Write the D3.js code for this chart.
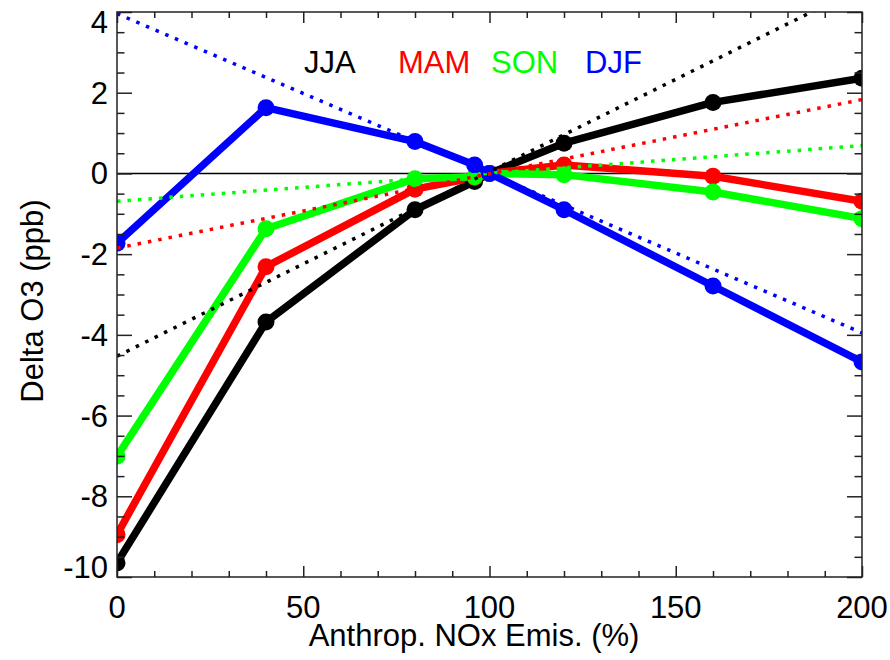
<!DOCTYPE html>
<html>
<head>
<meta charset="utf-8">
<script src="https://cdn.jsdelivr.net/npm/d3@7"></script>
<style>
body { margin: 0; background: #fff; }
text { font-family: "Liberation Sans", Arial, Helvetica, sans-serif; }
</style>
</head>
<body>
<div id="myDiv"></div>
<script>
// emission scaling (%)
var emis = [0, 40, 80, 96, 100, 120, 160, 200];

// delta O3 (ppb) per season
var jja = [-9.65, -3.68, -0.90, -0.20, 0, 0.75, 1.76, 2.36];
var mam = [-8.95, -2.31, -0.39, -0.10, 0, 0.21, -0.07, -0.69];
var son = [-7.01, -1.37, -0.13, -0.08, 0, -0.03, -0.46, -1.12];
var djf = [-1.73, 1.63, 0.79, 0.21, 0, -0.90, -2.79, -4.67];

// linear fit values at 0% and 200%
var fitX = [0, 200];
var jjaFit = [-4.53, 4.62];
var mamFit = [-1.85, 1.83];
var sonFit = [-0.69, 0.69];
var djfFit = [3.96, -3.95];

var seasons = ["JJA", "MAM", "SON", "DJF"];
var colors = ["#000000", "#ff0000", "#00ff00", "#0000ff"];
var values = [jja, mam, son, djf];
var fits = [jjaFit, mamFit, sonFit, djfFit];

var xTicks = [0, 50, 100, 150, 200];
var yTicks = [-10, -8, -6, -4, -2, 0, 2, 4];

// plot box (px)
var pLeft = 117, pRight = 862, pTop = 12, pBottom = 577;

var svg = d3.select("#myDiv").append("svg")
    .attr("width", 890)
    .attr("height", 660);

var x = d3.scaleLinear().domain([0, 200]).range([pLeft, pRight]);
var y = d3.scaleLinear().domain([-10, 4]).range([pBottom, pTop]);

svg.append("clipPath").attr("id", "plotclip")
  .append("rect")
    .attr("x", pLeft).attr("y", pTop)
    .attr("width", pRight - pLeft).attr("height", pBottom - pTop);

// zero line
svg.append("line")
    .attr("x1", x(0)).attr("x2", x(200))
    .attr("y1", y(0)).attr("y2", y(0))
    .attr("stroke", "#000")
    .attr("stroke-width", 1.5);

var plot = svg.append("g").attr("clip-path", "url(#plotclip)");

var line = d3.line()
    .x(function(d){ return x(d[0]); })
    .y(function(d){ return y(d[1]); });

seasons.forEach(function(s, k){
    var pts = emis.map(function(e, i){ return [e, values[k][i]]; });

    plot.append("path")
        .datum(pts)
        .attr("d", line)
        .attr("fill", "none")
        .attr("stroke", colors[k])
        .attr("stroke-width", 7.5)
        .attr("stroke-linejoin", "round");

    plot.selectAll(".dot" + k)
        .data(pts)
        .enter()
        .append("circle")
        .attr("cx", function(d){ return x(d[0]); })
        .attr("cy", function(d){ return y(d[1]); })
        .attr("r", 8.5)
        .attr("fill", colors[k]);
});

seasons.forEach(function(s, k){
    var fp = fitX.map(function(e, i){ return [e, fits[k][i]]; });
    plot.append("path")
        .datum(fp)
        .attr("d", line)
        .attr("fill", "none")
        .attr("stroke", colors[k])
        .attr("stroke-width", 3.5)
        .attr("stroke-dasharray", "3.5,7");
});

// axes, ticks pointing inward on all four sides
var axisCol = "#222";
var xMajor = 11, xMinor = 6, yMajor = 15, yMinor = 7.5;

svg.append("g")
    .attr("transform", "translate(0," + pBottom + ")")
    .call(d3.axisBottom(x).tickValues(d3.range(0, 201, 10)).tickSizeOuter(0).tickFormat(""))
    .call(function(g){
        g.select(".domain").remove();
        g.selectAll(".tick line")
          .attr("y2", function(d){ return d % 50 === 0 ? -xMajor : -xMinor; })
          .attr("stroke", axisCol).attr("stroke-width", 1.5);
    });

svg.append("g")
    .attr("transform", "translate(0," + pTop + ")")
    .call(d3.axisTop(x).tickValues(d3.range(0, 201, 10)).tickSizeOuter(0).tickFormat(""))
    .call(function(g){
        g.select(".domain").remove();
        g.selectAll(".tick line")
          .attr("y2", function(d){ return d % 50 === 0 ? xMajor : xMinor; })
          .attr("stroke", axisCol).attr("stroke-width", 1.5);
    });

svg.append("g")
    .attr("transform", "translate(" + pLeft + ",0)")
    .call(d3.axisLeft(y).tickValues(d3.range(-10, 4.01, 0.5)).tickSizeOuter(0).tickFormat(""))
    .call(function(g){
        g.select(".domain").remove();
        g.selectAll(".tick line")
          .attr("x2", function(d){ return Math.abs(d % 2) < 1e-9 ? yMajor : yMinor; })
          .attr("stroke", axisCol).attr("stroke-width", 1.5);
    });

svg.append("g")
    .attr("transform", "translate(" + pRight + ",0)")
    .call(d3.axisRight(y).tickValues(d3.range(-10, 4.01, 0.5)).tickSizeOuter(0).tickFormat(""))
    .call(function(g){
        g.select(".domain").remove();
        g.selectAll(".tick line")
          .attr("x2", function(d){ return Math.abs(d % 2) < 1e-9 ? -yMajor : -yMinor; })
          .attr("stroke", axisCol).attr("stroke-width", 1.5);
    });

svg.append("rect")
    .attr("x", pLeft).attr("y", pTop)
    .attr("width", pRight - pLeft).attr("height", pBottom - pTop)
    .attr("fill", "none")
    .attr("stroke", axisCol)
    .attr("stroke-width", 1.5);

// tick labels
svg.selectAll(".xlab")
    .data(xTicks)
    .enter()
    .append("text")
    .attr("x", function(d){ return x(d); })
    .attr("y", 618)
    .attr("text-anchor", "middle")
    .attr("font-size", 31)
    .text(function(d){ return d; });

// end labels are kept inside the box height, like the original
svg.selectAll(".ylab")
    .data(yTicks)
    .enter()
    .append("text")
    .attr("x", 108)
    .attr("y", function(d){ return Math.max(33, Math.min(578, y(d) + 11)); })
    .attr("text-anchor", "end")
    .attr("font-size", 31)
    .text(function(d){ return d; });

// titles
svg.append("text")
    .attr("x", 474)
    .attr("y", 646)
    .attr("text-anchor", "middle")
    .attr("font-size", 31)
    .text("Anthrop. NOx Emis. (%)");

svg.append("text")
    .attr("transform", "translate(43,301) rotate(-90)")
    .attr("text-anchor", "middle")
    .attr("font-size", 31)
    .text("Delta O3 (ppb)");

// season legend
var legendX = [304, 398, 491, 585];
svg.selectAll(".leg")
    .data(seasons)
    .enter()
    .append("text")
    .attr("x", function(d, i){ return legendX[i]; })
    .attr("y", 73)
    .attr("font-size", 31)
    .attr("fill", function(d, i){ return colors[i]; })
    .text(function(d){ return d; });
</script>
</body>
</html>
